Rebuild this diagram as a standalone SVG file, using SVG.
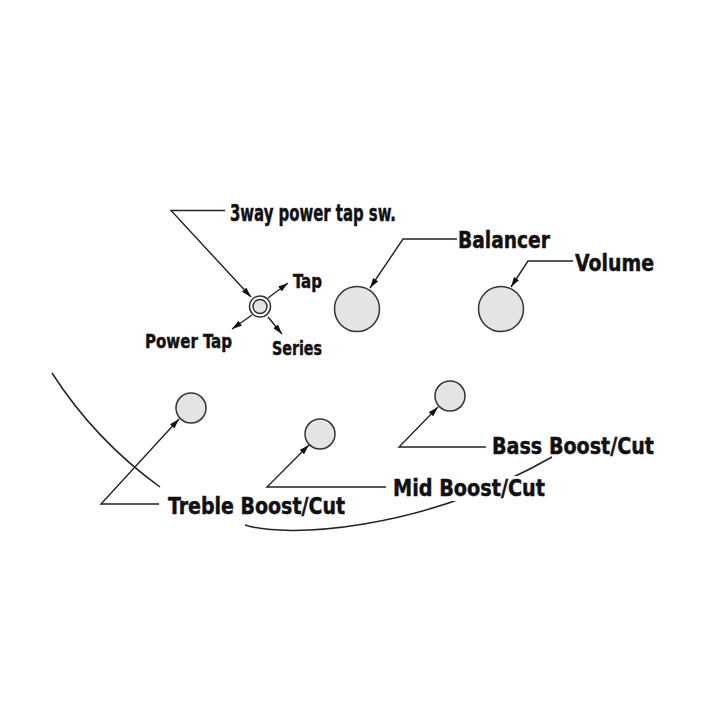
<svg xmlns="http://www.w3.org/2000/svg" width="720" height="720" viewBox="0 0 720 720">
<style>
.lbl{font-family:"DejaVu Sans Condensed","Liberation Sans",Arial,sans-serif;font-weight:bold;font-stretch:condensed;fill:#111;stroke:#111;stroke-width:0.45}
.big{font-size:23px}
.small{font-size:19.5px}
.ld{fill:none;stroke:#222;stroke-width:1.4}
.knob{fill:#e4e4e4;stroke:#333;stroke-width:1.5}
.body{fill:none;stroke:#222;stroke-width:1.5}
</style>
<defs>
<marker id="ah" viewBox="0 0 10 6" refX="10" refY="3" markerWidth="10" markerHeight="6" markerUnits="userSpaceOnUse" orient="auto">
<path d="M0,0 L10,3 L0,6 z" fill="#111"/>
</marker>
</defs>
<rect width="720" height="720" fill="#fff"/>
<g id="body-outline">
<path class="body" d="M52,373 Q95,440 160,487"/>
<path class="body" d="M245,525 C285,538 420,532 552,457"/>
</g>
<g id="switch">
<circle cx="260" cy="306.5" r="10.5" fill="#fff" stroke="#333" stroke-width="1.5"/>
<circle cx="260" cy="306.5" r="7" class="knob"/>
</g>
<g id="balancer"><circle cx="357" cy="309" r="22.5" class="knob"/></g>
<g id="volume"><circle cx="501" cy="309" r="22.5" class="knob"/></g>
<g id="treble"><circle cx="191" cy="408" r="15" class="knob"/></g>
<g id="mid"><circle cx="320" cy="434" r="15" class="knob"/></g>
<g id="bass"><circle cx="450" cy="396" r="15" class="knob"/></g>
<g id="connectors">
<polyline class="ld" points="225,210.5 171,210.5 251,297" marker-end="url(#ah)"/>
<line class="ld" x1="268" y1="298" x2="288" y2="283" marker-end="url(#ah)"/>
<line class="ld" x1="252" y1="315" x2="232" y2="329" marker-end="url(#ah)"/>
<line class="ld" x1="268" y1="317" x2="282" y2="334" marker-end="url(#ah)"/>
<polyline class="ld" points="457,239 403,239 370,288" marker-end="url(#ah)"/>
<polyline class="ld" points="573,261 528,261 511,287" marker-end="url(#ah)"/>
<polyline class="ld" points="159,504 101,504 179,419" marker-end="url(#ah)"/>
<polyline class="ld" points="386,487 267,487 309,445" marker-end="url(#ah)"/>
<polyline class="ld" points="486,447 399,447 438,407" marker-end="url(#ah)"/>
</g>
<g id="labels">
<text class="lbl big" x="230" y="220.5" textLength="166" lengthAdjust="spacingAndGlyphs">3way power tap sw.</text>
<text class="lbl small" x="293" y="287.5" textLength="29" lengthAdjust="spacingAndGlyphs">Tap</text>
<text class="lbl small" x="145" y="347.5" textLength="87" lengthAdjust="spacingAndGlyphs">Power Tap</text>
<text class="lbl small" x="272" y="354.5" textLength="50" lengthAdjust="spacingAndGlyphs">Series</text>
<text class="lbl big" x="458" y="247.5" textLength="92" lengthAdjust="spacingAndGlyphs">Balancer</text>
<text class="lbl big" x="575" y="270.5" textLength="79" lengthAdjust="spacingAndGlyphs">Volume</text>
<text class="lbl big" x="168" y="513.5" textLength="177" lengthAdjust="spacingAndGlyphs">Treble Boost/Cut</text>
<rect x="389" y="476" width="160" height="25" fill="#fff"/>
<text class="lbl big" x="393" y="496" textLength="152" lengthAdjust="spacingAndGlyphs">Mid Boost/Cut</text>
<text class="lbl big" x="492" y="453.5" textLength="162" lengthAdjust="spacingAndGlyphs">Bass Boost/Cut</text>
</g>
</svg>
